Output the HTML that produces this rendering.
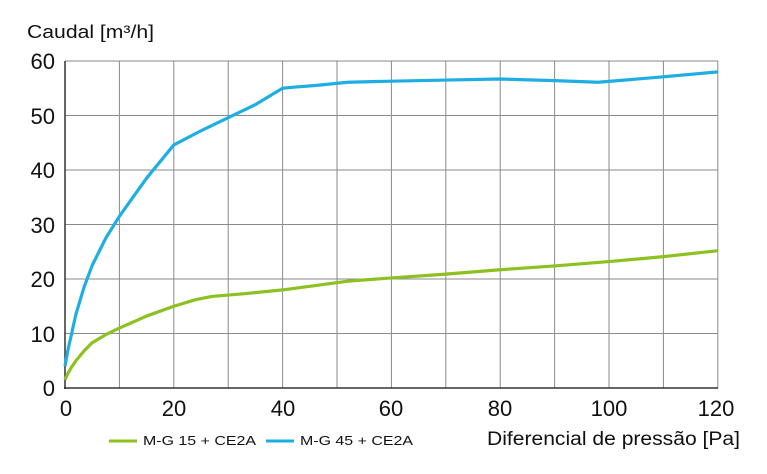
<!DOCTYPE html>
<html><head><meta charset="utf-8"><style>
body{margin:0;background:#fff;}
svg{display:block;font-family:"Liberation Sans",sans-serif;}
</style></head><body>
<svg width="767" height="474" viewBox="0 0 767 474">
<g stroke="#8a8a8a" stroke-width="1">
<line x1="119.4" y1="61" x2="119.4" y2="388"/><line x1="173.8" y1="61" x2="173.8" y2="388"/><line x1="228.2" y1="61" x2="228.2" y2="388"/><line x1="282.6" y1="61" x2="282.6" y2="388"/><line x1="337" y1="61" x2="337" y2="388"/><line x1="391.4" y1="61" x2="391.4" y2="388"/><line x1="445.8" y1="61" x2="445.8" y2="388"/><line x1="500.2" y1="61" x2="500.2" y2="388"/><line x1="554.6" y1="61" x2="554.6" y2="388"/><line x1="609" y1="61" x2="609" y2="388"/><line x1="663.4" y1="61" x2="663.4" y2="388"/><line x1="717.8" y1="61" x2="717.8" y2="388"/>
<line x1="65" y1="61" x2="718" y2="61"/><line x1="65" y1="115.5" x2="718" y2="115.5"/><line x1="65" y1="170" x2="718" y2="170"/><line x1="65" y1="224.5" x2="718" y2="224.5"/><line x1="65" y1="279" x2="718" y2="279"/><line x1="65" y1="333.5" x2="718" y2="333.5"/>
</g>
<line x1="65" y1="61" x2="65" y2="389" stroke="#333" stroke-width="1.5"/>
<line x1="64" y1="388" x2="718" y2="388" stroke="#333" stroke-width="1.5"/>
<g transform="translate(65,388) scale(5.44,-5.45)" fill="none" stroke-width="3.2" stroke-linejoin="round">
<polyline vector-effect="non-scaling-stroke" stroke="#8dc021" points="0,1.5 0.5,2.6 1,3.5 2,5 3.5,6.8 5,8.3 7.5,9.8 10,11 15,13.2 20,15 24,16.2 27,16.8 33,17.3 40,18 46,18.8 52,19.6 60,20.2 70,20.9 80,21.7 90,22.4 100,23.2 110,24.1 120,25.2"/>
<polyline vector-effect="non-scaling-stroke" stroke="#1eaee3" points="0,4 0.5,6.8 1,9 2,13.5 3.5,18.5 5,22.5 7.5,27.5 10,31.5 15,38.5 20,44.6 25,47.2 30,49.6 35,52 38,53.8 40,55 42,55.2 46,55.5 52,56.1 60,56.3 70,56.5 80,56.7 90,56.4 98,56.1 110,57.1 120,58"/>
</g>
<g font-size="22" fill="#111" text-anchor="end">
<text x="55" y="69">60</text><text x="55" y="124">50</text><text x="55" y="178">40</text><text x="55" y="233">30</text><text x="55" y="287">20</text><text x="55" y="342">10</text><text x="55" y="396">0</text>
</g>
<g font-size="22" fill="#111" text-anchor="middle">
<text x="66" y="416">0</text><text x="174" y="416">20</text><text x="283" y="416">40</text><text x="391" y="416">60</text><text x="500" y="416">80</text><text x="609" y="416">100</text><text x="716" y="416">120</text>
</g>
<text x="27" y="38" font-size="18" fill="#111" textLength="127" lengthAdjust="spacingAndGlyphs">Caudal [m³/h]</text>
<text x="487" y="445" font-size="19" fill="#111" textLength="253" lengthAdjust="spacingAndGlyphs">Diferencial de pressão [Pa]</text>
<line x1="109" y1="441" x2="137" y2="441" stroke="#8dc021" stroke-width="3"/>
<text x="143" y="445" font-size="13" fill="#111" textLength="113" lengthAdjust="spacingAndGlyphs">M-G 15 + CE2A</text>
<line x1="266" y1="441" x2="294" y2="441" stroke="#1eaee3" stroke-width="3"/>
<text x="300" y="445" font-size="13" fill="#111" textLength="113" lengthAdjust="spacingAndGlyphs">M-G 45 + CE2A</text>
</svg>
</body></html>
